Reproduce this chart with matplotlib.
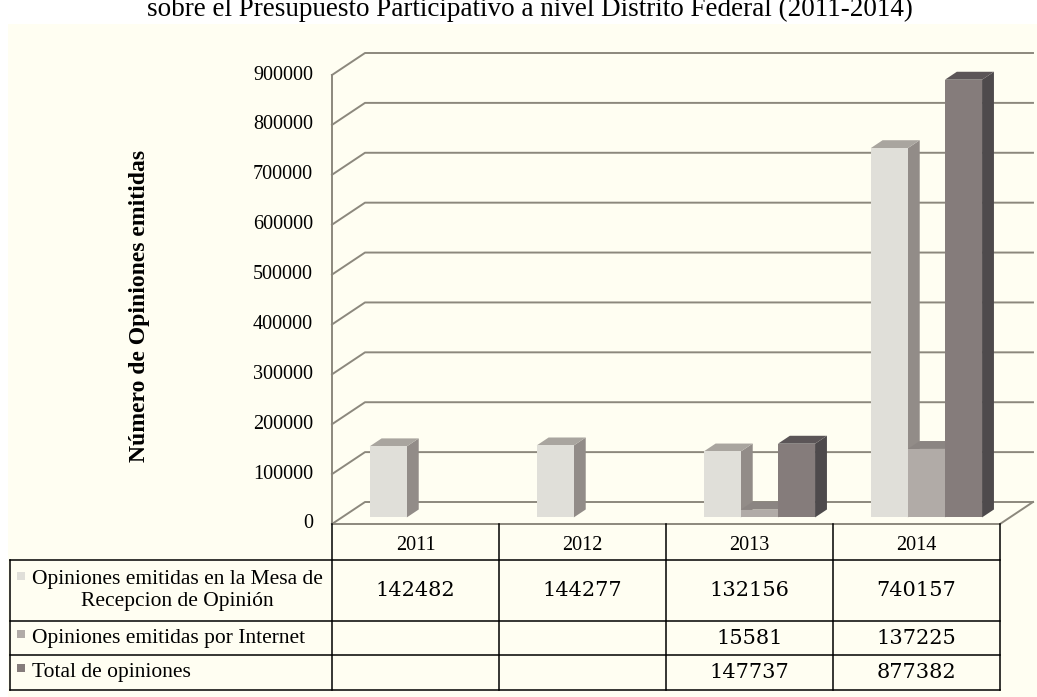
import numpy as np
import matplotlib.pyplot as plt
from matplotlib.patches import Rectangle, Polygon

# data
years = ["2011", "2012", "2013", "2014"]
mesa = [142482, 144277, 132156, 740157]
internet = [np.nan, np.nan, 15581, 137225]
total = [np.nan, np.nan, 147737, 877382]
series_names = ["Opiniones emitidas en la Mesa de\nRecepcion de Opinión",
                "Opiniones emitidas por Internet",
                "Total de opiniones"]
yticks = np.arange(0, 900001, 100000)

W, H = 1037, 697
serif = "Liberation Serif"
grid_c = "#8C887D"
cream = "#FFFEF2"

# front, side, top colours for each series
face_cols = [("#E0DFD9", "#928C88", "#A9A59F"),
             ("#B1ABA7", "#8A8481", "#8B8582"),
             ("#857C7B", "#4E4A4C", "#5B5557")]

fig = plt.figure(figsize=(W / 100, H / 100), dpi=100)
fig.patch.set_facecolor("white")
fig.patches.append(Rectangle((8 / W, 0), 1 - 8 / W, 1 - 24 / H, transform=fig.transFigure,
                             facecolor=cream, edgecolor="none", zorder=-10))

# title is cut at the top edge, as in the source
fig.text(530 / W, 1 - 16 / H,
         "sobre el Presupuesto Participativo a nivel Distrito Federal (2011-2014)",
         ha="center", va="baseline", fontsize=19.5, family=serif)

ax = fig.add_axes([332 / W, 1 - 524 / H, 668 / W, 449 / H])
ax.set_xlim(-0.5, 3.5)
ax.set_ylim(0, 900000)
ax.axis("off")

# depth of the 3d floor in data units
DX = 33 / 167
DY = 22 * 900000 / 449

# back wall, side wall and floor
for v in yticks:
    ax.plot([-0.5, -0.5 + DX, 3.5 + DX], [v, v + DY, v + DY], color=grid_c, lw=1.4,
            clip_on=False, zorder=1)
ax.plot([-0.5, -0.5], [0, yticks[-1]], color=grid_c, lw=1.4, clip_on=False, zorder=1)
ax.plot([-0.5, 3.5, 3.5 + DX], [0, 0, DY], color=grid_c, lw=1.4, clip_on=False, zorder=1)

for v in yticks:
    ax.text(-0.5 - 19 / 167, v, str(v), ha="right", va="center", fontsize=14.5, family=serif)

fig.text(140 / W, 1 - 306 / H, "Número de Opiniones emitidas", rotation=90,
         ha="center", va="center", fontsize=17, fontweight="bold", family=serif)

# 3d bars
bw = 1 / 4.5
f0 = 0.3
bdx, bdy = 0.36 * DX, 0.36 * DY
z = 2
for i in range(len(years)):
    for j, vals in enumerate([mesa, internet, total]):
        v = vals[i]
        if np.isnan(v):
            continue
        front, side, top = face_cols[j]
        x0 = i - 1.5 * bw + j * bw + f0 * DX
        y0 = f0 * DY
        y1 = y0 + v
        ax.add_patch(Polygon([(x0 + bw, y0), (x0 + bw + bdx, y0 + bdy),
                              (x0 + bw + bdx, y1 + bdy), (x0 + bw, y1)],
                             facecolor=side, edgecolor="none", clip_on=False, zorder=z))
        ax.add_patch(Polygon([(x0, y1), (x0 + bw, y1), (x0 + bw + bdx, y1 + bdy),
                              (x0 + bdx, y1 + bdy)],
                             facecolor=top, edgecolor="none", clip_on=False, zorder=z))
        ax.add_patch(Rectangle((x0, y0), bw, v, facecolor=front, edgecolor="none",
                               clip_on=False, zorder=z))
        z += 1

# data table below the floor
tab = fig.add_axes([10 / W, 1 - 690 / H, 990 / W, 166 / H])
xl = -0.5 - 322 / 167
tab.set_xlim(xl, 3.5)
tab.set_ylim(166, 0)
tab.axis("off")
rows = [0, 36, 97, 131, 166]
lc = dict(color="black", lw=1.1, clip_on=False)
for k in range(len(years) + 1):
    tab.plot([k - 0.5, k - 0.5], [0, rows[-1]], **lc)
tab.plot([xl, xl], [rows[1], rows[-1]], **lc)
for r in rows[1:]:
    tab.plot([xl, 3.5], [r, r], **lc)

for i, y in enumerate(years):
    tab.text(i, 22, y, ha="center", va="center", fontsize=14.5, family=serif)

for j, vals in enumerate([mesa, internet, total]):
    ymid = (rows[j + 1] + rows[j + 2]) / 2
    tab.text(xl + 22 / 167, ymid, series_names[j], ha="left", va="center", fontsize=15.5,
             family=serif, multialignment="center", linespacing=1.2)
    ky = rows[j + 1] + 12 if j == 0 else rows[j + 1] + 9
    tab.add_patch(Rectangle((xl + 7 / 167, ky), 8 / 167, 8, facecolor=face_cols[j][0],
                            edgecolor="none", clip_on=False))
    for i, v in enumerate(vals):
        if not np.isnan(v):
            tab.text(i, ymid, str(int(v)), ha="center", va="center", fontsize=15,
                     family="DejaVu Serif")

fig.savefig("out.png", dpi=100, facecolor=fig.get_facecolor())
